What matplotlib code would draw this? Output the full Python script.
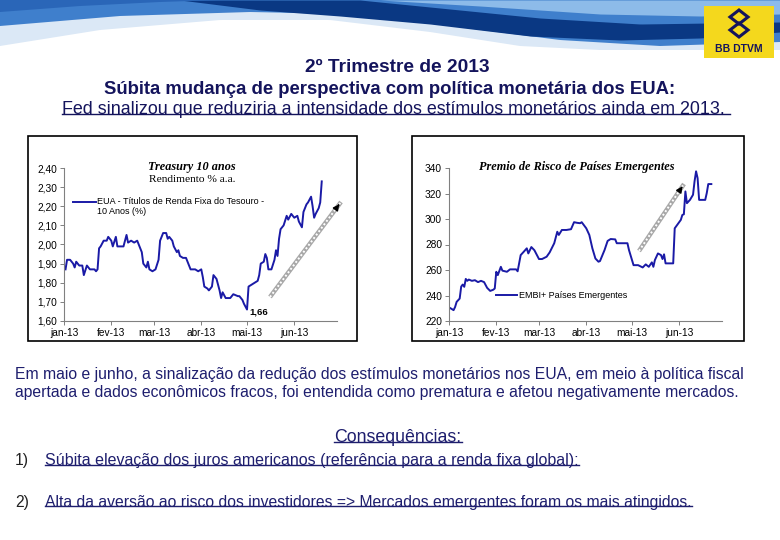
import numpy as np
import pandas as pd
import matplotlib
matplotlib.use("Agg")
import matplotlib.pyplot as plt
from matplotlib.patches import Rectangle, Polygon
from matplotlib.lines import Line2D
from matplotlib.ticker import FuncFormatter

# ---------------------------------------------------------------------------
# data
# ---------------------------------------------------------------------------

UST_DATES = [
    "2013-01-02", "2013-01-03", "2013-01-05", "2013-01-07", "2013-01-08", "2013-01-09",
    "2013-01-11", "2013-01-13", "2013-01-14", "2013-01-16", "2013-01-18", "2013-01-21",
    "2013-01-22", "2013-01-23", "2013-01-24", "2013-01-25", "2013-01-27", "2013-01-29",
    "2013-01-30", "2013-02-01", "2013-02-02", "2013-02-04", "2013-02-05", "2013-02-09",
    "2013-02-11", "2013-02-12", "2013-02-14", "2013-02-16", "2013-02-18", "2013-02-19",
    "2013-02-21", "2013-02-22", "2013-02-24", "2013-02-25", "2013-02-26", "2013-02-28",
    "2013-03-02", "2013-03-04", "2013-03-05", "2013-03-07", "2013-03-09", "2013-03-10",
    "2013-03-11", "2013-03-13", "2013-03-14", "2013-03-16", "2013-03-17", "2013-03-18",
    "2013-03-20", "2013-03-22", "2013-03-23", "2013-03-25", "2013-03-28", "2013-03-30",
    "2013-04-01", "2013-04-02", "2013-04-03", "2013-04-05", "2013-04-06", "2013-04-08",
    "2013-04-09", "2013-04-11", "2013-04-13", "2013-04-14", "2013-04-15", "2013-04-17",
    "2013-04-20", "2013-04-22", "2013-04-25", "2013-04-26", "2013-04-28", "2013-04-29",
    "2013-05-01", "2013-05-02", "2013-05-04", "2013-05-06", "2013-05-08", "2013-05-09",
    "2013-05-10", "2013-05-12", "2013-05-13", "2013-05-14", "2013-05-15", "2013-05-17",
    "2013-05-19", "2013-05-20", "2013-05-21", "2013-05-22", "2013-05-23", "2013-05-25",
    "2013-05-27", "2013-05-28", "2013-05-30", "2013-06-01", "2013-06-03", "2013-06-04",
    "2013-06-06", "2013-06-07", "2013-06-09", "2013-06-10", "2013-06-12", "2013-06-13",
    "2013-06-14", "2013-06-15", "2013-06-17", "2013-06-18", "2013-06-19",
]
UST_YIELD = [
    1.87, 1.92, 1.92, 1.90, 1.88, 1.91, 1.89, 1.89, 1.84, 1.89, 1.87, 1.87,
    1.86, 1.87, 1.98, 1.99, 2.02, 2.02, 2.04, 2.02, 1.99, 2.04, 1.99, 1.99,
    2.05, 2.01, 2.02, 2.01, 2.02, 2.00, 1.96, 1.90, 1.88, 1.91, 1.87, 1.86,
    1.87, 1.92, 2.02, 2.06, 2.06, 2.03, 2.04, 2.02, 1.99, 1.96, 1.97, 1.94,
    1.93, 1.93, 1.91, 1.87, 1.87, 1.86, 1.87, 1.83, 1.78, 1.77, 1.76, 1.78,
    1.84, 1.82, 1.76, 1.72, 1.75, 1.72, 1.72, 1.74, 1.73, 1.73, 1.71, 1.69,
    1.66, 1.78, 1.79, 1.80, 1.81, 1.84, 1.90, 1.91, 1.95, 1.93, 1.87, 1.87,
    1.92, 1.97, 1.94, 2.03, 2.08, 2.10, 2.15, 2.13, 2.16, 2.14, 2.15, 2.12,
    2.09, 2.17, 2.21, 2.22, 2.25, 2.20, 2.14, 2.16, 2.19, 2.22, 2.33,
]

EMBI_DATES = [
    "2013-01-02", "2013-01-04", "2013-01-05", "2013-01-06", "2013-01-08", "2013-01-09",
    "2013-01-10", "2013-01-11", "2013-01-12", "2013-01-13", "2013-01-14", "2013-01-16",
    "2013-01-18", "2013-01-20", "2013-01-22", "2013-01-24", "2013-01-26", "2013-01-28",
    "2013-01-30", "2013-01-31", "2013-02-01", "2013-02-02", "2013-02-04", "2013-02-05",
    "2013-02-08", "2013-02-10", "2013-02-14", "2013-02-15", "2013-02-17", "2013-02-19",
    "2013-02-21", "2013-02-22", "2013-02-24", "2013-02-26", "2013-03-01", "2013-03-03",
    "2013-03-06", "2013-03-08", "2013-03-11", "2013-03-13", "2013-03-14", "2013-03-16",
    "2013-03-19", "2013-03-22", "2013-03-24", "2013-03-26", "2013-03-28", "2013-03-29",
    "2013-04-01", "2013-04-03", "2013-04-05", "2013-04-07", "2013-04-09", "2013-04-10",
    "2013-04-13", "2013-04-15", "2013-04-17", "2013-04-20", "2013-04-21", "2013-04-28",
    "2013-04-29", "2013-05-02", "2013-05-05", "2013-05-08", "2013-05-10", "2013-05-12",
    "2013-05-14", "2013-05-15", "2013-05-16", "2013-05-18", "2013-05-20", "2013-05-21",
    "2013-05-22", "2013-05-23", "2013-05-28", "2013-05-29", "2013-06-02", "2013-06-03",
    "2013-06-04", "2013-06-05", "2013-06-06", "2013-06-08", "2013-06-10", "2013-06-11",
    "2013-06-12", "2013-06-13", "2013-06-14", "2013-06-18", "2013-06-19", "2013-06-20",
    "2013-06-22",
]
EMBI_SPREAD = [
    230.0, 228.5, 231.0, 235.0, 237.6, 247.0, 248.6, 246.8, 253.0, 251.5, 252.5, 251.5,
    252.0, 250.5, 251.5, 250.5, 246.0, 243.6, 244.5, 245.5, 258.6, 256.0, 262.5, 259.5,
    258.6, 260.5, 260.5, 259.0, 271.7, 274.3, 277.0, 273.0, 278.0, 275.5, 268.6, 268.6,
    270.4, 273.8, 281.0, 290.0, 287.5, 291.4, 291.4, 292.0, 297.5, 297.0, 296.7, 297.5,
    292.7, 287.5, 277.0, 269.0, 266.5, 267.0, 275.7, 282.8, 284.3, 284.0, 281.0, 281.0,
    275.7, 263.8, 263.8, 262.0, 264.4, 262.5, 266.0, 262.5, 267.8, 273.0, 271.7, 268.6,
    272.3, 265.2, 265.2, 292.7, 299.3, 303.2, 303.7, 321.6, 312.4, 315.0, 319.0, 329.5,
    337.4, 332.0, 315.0, 315.0, 320.3, 327.4, 327.4,
]

MONTH_TICKS = ["2013-01-01", "2013-02-01", "2013-03-01", "2013-04-01", "2013-05-01", "2013-06-01"]
MONTH_LABELS = ["jan-13", "fev-13", "mar-13", "abr-13", "mai-13", "jun-13"]
UST_TICKS = [1.60, 1.70, 1.80, 1.90, 2.00, 2.10, 2.20, 2.30, 2.40]
EMBI_TICKS = [220, 240, 260, 280, 300, 320, 340]

NAVY = "#14145c"
TEXT_BLUE = "#1e1e6e"
LINE_BLUE = "#1a1aa6"
SANS = "Liberation Sans"
W, H = 780, 540

fig = plt.figure(figsize=(W / 100, H / 100), dpi=100)
fig.patch.set_facecolor("white")

# background axes in pixel coordinates (y downwards)
bg = fig.add_axes([0, 0, 1, 1])
bg.set_xlim(0, W)
bg.set_ylim(H, 0)
bg.axis("off")


def px_axes(x0, y0, x1, y1):
    """Axes placed by pixel box (top-left origin)."""
    return fig.add_axes([x0 / W, (H - y1) / H, (x1 - x0) / W, (y1 - y0) / H])


def underline(txt, color, lw=1.0, drop=0.22):
    fig.canvas.draw()
    bb = txt.get_window_extent()
    inv = bg.transData.inverted()
    (x0, ya), (x1, yb) = inv.transform([[bb.x0, bb.y0], [bb.x1, bb.y1]])
    y = ya - (ya - yb) * drop
    bg.add_line(Line2D([x0, x1], [y, y], color=color, lw=lw))


# ---------------------------------------------------------------------------
# banner waves + logo
# ---------------------------------------------------------------------------

xs = np.linspace(0, W, 300)
zero = np.zeros_like(xs)
# pale swoosh on the left
pale = np.interp(xs, [0, 100, 220, 330, 430, 520, 600], [46, 30, 20, 20, 32, 46, 50])
bg.fill_between(xs, zero, pale, color="#dbe8f6", lw=0)
# medium blue cover
base = np.interp(xs, [0, 120, 250, 350, 450, 560, 660, 780], [26, 16, 12, 14, 26, 40, 46, 42])
bg.fill_between(xs, zero, base, color="#3f7fcc", lw=0)
# light blue at the right top
lt = np.interp(xs, [380, 480, 600, 700, 780], [0, 6, 14, 16, 14])
m = xs >= 380
bg.fill_between(xs[m], zero[m], lt[m], color="#8dbbe9", lw=0)
# dark navy band
d_top = np.interp(xs, [180, 360, 440, 540, 640, 780], [0, 0, 8, 18, 24, 22])
d_bot = np.interp(xs, [180, 260, 340, 430, 530, 620, 700, 780], [0, 10, 16, 24, 36, 40, 38, 32])
m = xs >= 180
bg.fill_between(xs[m], d_top[m], d_bot[m], color="#0a3883", lw=0)
# top-left strip
tl = np.interp(xs, [0, 80, 160, 220], [12, 6, 2, 0])
bg.fill_between(xs, zero, tl, color="#2a66b8", lw=0)

bg.add_patch(Rectangle((704, 6), 70, 52, facecolor="#f4d81d", edgecolor="none"))
bg.add_patch(Polygon([[730, 17], [739, 10], [748, 17], [739, 24]], closed=True,
                     facecolor="none", edgecolor=NAVY, lw=2.2))
bg.add_patch(Polygon([[730, 30], [739, 23], [748, 30], [739, 37]], closed=True,
                     facecolor="none", edgecolor=NAVY, lw=2.2))
bg.text(739, 49, "BB DTVM", ha="center", va="center", fontsize=7.5,
        fontweight="bold", color=NAVY, family=SANS)

# ---------------------------------------------------------------------------
# headings
# ---------------------------------------------------------------------------

bg.text(397, 67, "2º Trimestre de 2013", ha="center", va="center", fontsize=13.8,
        fontweight="bold", color=NAVY, family=SANS)
bg.text(390, 89, "Súbita mudança de perspectiva com política monetária dos EUA:",
        ha="center", va="center", fontsize=13.3, fontweight="bold", color=NAVY, family=SANS)
t3 = bg.text(62, 109, "Fed sinalizou que reduziria a intensidade dos estímulos monetários ainda em 2013. ",
             ha="left", va="center", fontsize=12.9, color=NAVY, family=SANS)
underline(t3, NAVY)

# ---------------------------------------------------------------------------
# chart frames + charts
# ---------------------------------------------------------------------------

bg.add_patch(Rectangle((28, 136), 329, 205, facecolor="white", edgecolor="black", lw=1.2))
bg.add_patch(Rectangle((412, 136), 332, 205, facecolor="white", edgecolor="black", lw=1.2))


def style_axes(ax, ticks, fmt, ylim):
    ax.set_facecolor("none")
    ax.set_ylim(*ylim)
    ax.set_xlim(pd.Timestamp("2013-01-01"), pd.Timestamp("2013-06-29"))
    ax.set_yticks(ticks)
    ax.yaxis.set_major_formatter(FuncFormatter(fmt))
    ax.set_xticks(pd.to_datetime(MONTH_TICKS))
    ax.set_xticklabels(MONTH_LABELS)
    for s in ["top", "right"]:
        ax.spines[s].set_visible(False)
    for s in ["left", "bottom"]:
        ax.spines[s].set_color("#808080")
        ax.spines[s].set_linewidth(0.8)
    ax.tick_params(axis="both", labelsize=7.3, length=3, width=0.7, color="#808080", pad=2)
    for lab in ax.get_xticklabels() + ax.get_yticklabels():
        lab.set_family(SANS)


# Treasury 10 anos
ax1 = px_axes(64, 168, 337, 321)
ax1.plot(pd.to_datetime(UST_DATES), UST_YIELD, color=LINE_BLUE, lw=1.4)
style_axes(ax1, UST_TICKS, lambda v, p: f"{v:.2f}".replace(".", ","), (1.60, 2.40))

bg.text(192, 167, "Treasury 10 anos", ha="center", va="center", fontsize=8.8,
        fontweight="bold", style="italic", family="Liberation Serif")
bg.text(192, 180, "Rendimento % a.a.", ha="center", va="center", fontsize=8.2,
        family="Liberation Serif")
bg.add_line(Line2D([73, 96], [202, 202], color=LINE_BLUE, lw=1.4))
bg.text(97, 202, "EUA - Títulos de Renda Fixa do Tesouro -", ha="left", va="center",
        fontsize=6.5, family=SANS)
bg.text(97, 212, "10 Anos (%)", ha="left", va="center", fontsize=6.5, family=SANS)
bg.text(249, 312, "1,66", ha="left", va="center", fontsize=6.8, fontweight="bold", family=SANS)

# Premio de Risco de Paises Emergentes
ax2 = px_axes(449, 168, 722, 321)
ax2.plot(pd.to_datetime(EMBI_DATES), EMBI_SPREAD, color=LINE_BLUE, lw=1.4)
style_axes(ax2, EMBI_TICKS, lambda v, p: f"{v:.0f}", (220, 340))

bg.text(577, 167, "Premio de Risco de Países Emergentes", ha="center", va="center",
        fontsize=8.8, fontweight="bold", style="italic", family="Liberation Serif")
bg.add_line(Line2D([496, 517], [295, 295], color=LINE_BLUE, lw=1.4))
bg.text(519, 295, "EMBI+ Países Emergentes", ha="left", va="center", fontsize=6.5, family=SANS)


def hatched_arrow(start, end):
    bg.add_line(Line2D([start[0], end[0]], [start[1], end[1]], color="#a8a8a8", lw=3.2,
                       solid_capstyle="butt"))
    bg.add_line(Line2D([start[0], end[0]], [start[1], end[1]], color="white", lw=1.4,
                       linestyle=(0, (1, 1.2))))
    dx, dy = end[0] - start[0], end[1] - start[1]
    n = np.hypot(dx, dy)
    back = (end[0] - dx / n * 7, end[1] - dy / n * 7)
    bg.annotate("", xy=end, xytext=back,
                arrowprops=dict(arrowstyle="-|>", color="black", lw=1, mutation_scale=9))


hatched_arrow((270, 297), (341, 202))
hatched_arrow((639, 251), (684, 184))

# ---------------------------------------------------------------------------
# body text
# ---------------------------------------------------------------------------

BODY = 11.3
bg.text(15, 374, "Em maio e junho, a sinalização da redução dos estímulos monetários nos EUA, em meio à política fiscal",
        ha="left", va="center", fontsize=BODY, color=TEXT_BLUE, family=SANS)
bg.text(15, 392, "apertada e dados econômicos fracos, foi entendida como prematura e afetou negativamente mercados.",
        ha="left", va="center", fontsize=BODY, color=TEXT_BLUE, family=SANS)

tc = bg.text(398, 437, "Consequências:", ha="center", va="center", fontsize=12.8,
             color=TEXT_BLUE, family=SANS)
underline(tc, TEXT_BLUE)

bg.text(15, 461, "1)", ha="left", va="center", fontsize=BODY, color="#222222", family=SANS)
t1 = bg.text(45, 461, "Súbita elevação dos juros americanos (referência para a renda fixa global):",
             ha="left", va="center", fontsize=11.5, color=TEXT_BLUE, family=SANS)
underline(t1, TEXT_BLUE)

bg.text(15, 502, "2)", ha="left", va="center", fontsize=BODY, color="#222222", family=SANS)
t2 = bg.text(45, 502, "Alta da aversão ao risco dos investidores => Mercados emergentes foram os mais atingidos.",
             ha="left", va="center", fontsize=11.3, color=TEXT_BLUE, family=SANS)
underline(t2, TEXT_BLUE)

fig.savefig("out.png", dpi=100)
